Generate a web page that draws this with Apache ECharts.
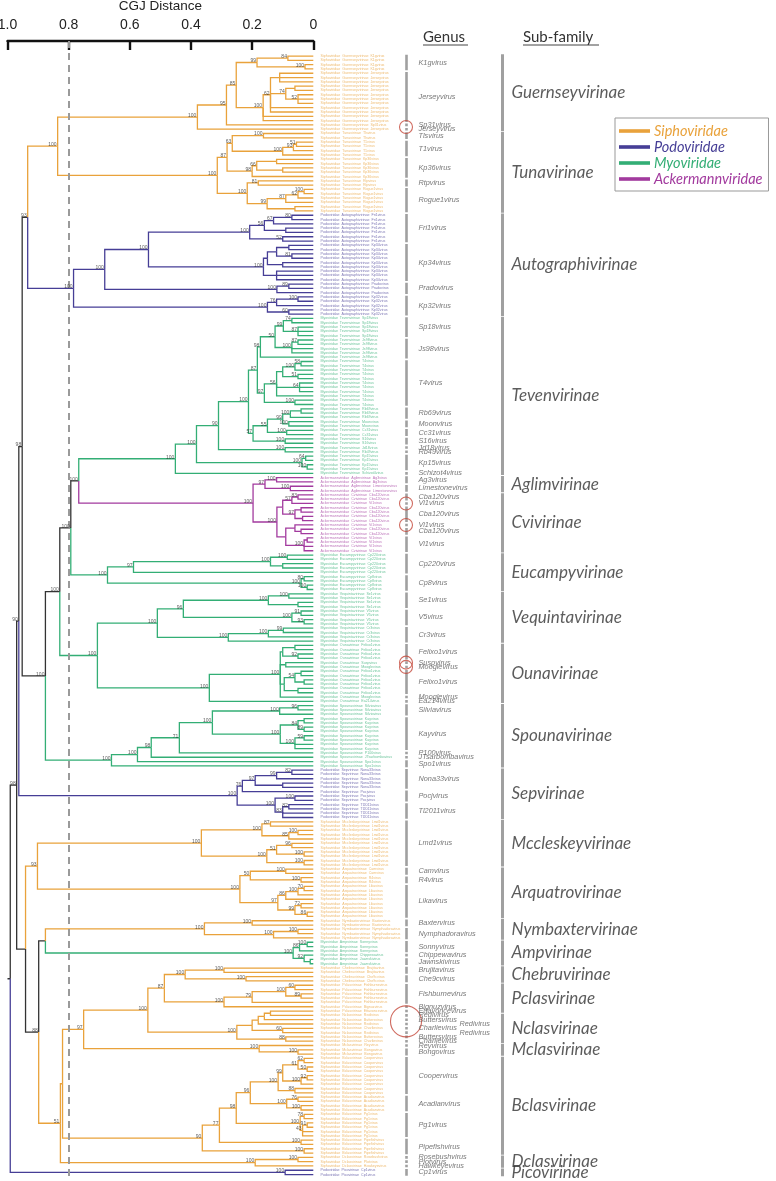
<!DOCTYPE html>
<html><head><meta charset="utf-8">
<script src="https://cdn.jsdelivr.net/npm/echarts@6/dist/echarts.min.js"></script>
<style>html,body{margin:0;padding:0;background:#fff}#c{width:776px;height:1181px}</style>
</head><body><div id="c"></div>
<script>
// ---------------- DATA ----------------
const distanceTicks = [1.0, 0.8, 0.6, 0.4, 0.2, 0];
const cutoffDistance = 0.8;
const families = ['Siphoviridae', 'Podoviridae', 'Myoviridae', 'Ackermannviridae'];
const podoGenera = ['Fri1','Kp34','Prado','Kp32','Nona33','Pocj','Tl2011','Cp1'];
const myoGenera = ['Sp18','Js98','T4','Rb69','Moon','Cc31','S16','Jd18','Rb49','Kp15','Schizot4','Cp220','Cp8','Se1','V5','Cr3','Felixo1','Susp','Moogle','Ea214','Silvia','Kay','P100','JTsarbomba','Spo1','Sonny','Chippewa','Jawnski'];
const ackerGenera = ['Ag3','Limestone','Cba120','Vi1'];

const subfamilies = [
 ['Guernseyvirinae',['K1g','Jersey','Sp31']],
 ['Tunavirinae',['Tls','T1','Kp36','Rtp','Rogue1']],
 ['Autographivirinae',['Fri1','Kp34','Prado','Kp32']],
 ['Tevenvirinae',['Sp18','Js98','T4','Rb69','Moon','Cc31','S16','Jd18','Rb49','Kp15','Schizot4']],
 ['Aglimvirinae',['Ag3','Limestone']],
 ['Cvivirinae',['Cba120','Vi1']],
 ['Eucampyvirinae',['Cp220','Cp8']],
 ['Vequintavirinae',['Se1','V5','Cr3']],
 ['Ounavirinae',['Felixo1','Susp','Moogle','Ea214']],
 ['Spounavirinae',['Silvia','Kay','P100','JTsarbomba','Spo1']],
 ['Sepvirinae',['Nona33','Pocj','Tl2011']],
 ['Mccleskeyvirinae',['Lmd1']],
 ['Arquatrovirinae',['Cam','R4','Lika']],
 ['Nymbaxtervirinae',['Baxter','Nymphadora']],
 ['Ampvirinae',['Sonny','Chippewa','Jawnski']],
 ['Chebruvirinae',['Brujita','Che9c']],
 ['Pclasvirinae',['Fishburne','Bignuz','Ettavonce']],
 ['Nclasvirinae',['Redi','Butters','Charlie']],
 ['Mclasvirinae',['Rey','Bongo']],
 ['Bclasvirinae',['Cooper','Acadian','Pg1','Pipefish']],
 ['Dclasvirinae',['Rosebush','Plot','Hawkeye']],
 ['Picovirinae',['Cp1']]
];

// subtrees: [distance, bootstrap, ...children]; a string is a leaf of that genus
const guernsey = [0.379,100,[0.284,95,[0.252,85,[0.184,99,[0.083,84,'K1g','K1g'],[0.027,100,'K1g','K1g']],
  [0.164,100,[0.14,62,[0.11,null,'Jersey','Jersey','Jersey'],[0.09,74,[0.06,null,'Jersey','Jersey'],[0.05,52,'Jersey','Jersey','Jersey']],'Jersey','Jersey'],'Jersey','Jersey']],'Sp31'],'Jersey'];
const tuna = [0.314,100,[0.282,87,[0.265,63,[0.163,100,'Tls','Tls'],[0.1,100,[0.065,93,[0.055,51,'T1','T1'],'T1'],'T1']],
  [0.2,98,[0.185,66,[0.12,null,'Kp36','Kp36'],[0.1,null,'Kp36','Kp36']],'Kp36']],
  [0.216,100,[0.18,81,'Rtp','Rtp'],[0.151,99,[0.09,87,[0.05,62,[0.03,100,'Rogue1','Rogue1'],'Rogue1'],'Rogue1'],[0.06,null,'Rogue1','Rogue1']]]];
const autographi = [0.784,100,[0.682,100,[0.539,100,
  [0.208,100,[0.16,56,[0.13,67,[0.07,80,'Fri1','Fri1'],'Fri1'],[0.09,null,'Fri1','Fri1']],[0.1,52,'Fri1','Fri1']],
  [0.163,100,[0.15,null,[0.12,null,[0.08,null,'Kp34','Kp34'],[0.07,81,'Kp34','Kp34']],[0.1,null,'Kp34','Kp34']],[0.12,null,'Kp34','Kp34','Kp34']]],
  [0.119,100,[0.08,89,'Prado','Prado'],'Prado']],
  [0.15,100,[0.12,76,[0.05,100,'Kp32','Kp32'],'Kp32'],[0.08,60,'Kp32','Kp32']]];
const sp18 = [0.098,99,[0.07,74,'Sp18','Sp18'],[0.05,87,'Sp18','Sp18','Sp18']];
const js98 = [0.07,100,[0.05,87,'Js98','Js98'],'Js98','Js98'];
const t4 = [0.16,97,[0.12,56,[0.1,null,[0.06,100,[0.04,58,'T4','T4'],'T4'],[0.05,51,'T4','T4']],[0.045,64,'T4','T4','T4'],'T4'],[0.06,100,'T4','T4']];
const rbGroup = [0.197,57,[0.15,55,[0.1,99,[0.075,100,[0.04,null,'Rb69','Rb69'],'Rb69'],[0.08,100,'Moon','Moon']],[0.087,100,'Cc31','Cc31']],[0.092,100,'S16','S16']];
const kp15 = [0.037,100,[0.025,64,'Kp15','Kp15'],[0.02,100,'Kp15','Kp15']];
const teven = [0.451,100,[0.382,100,[0.31,90,[0.212,100,[0.183,87,[0.173,98,[0.125,50,sp18,js98],'Js98'],t4],rbGroup],[0.092,100,'Jd18','Rb49']],kp15],'Schizot4'];
const aglim = [0.158,97,[0.12,100,'Ag3','Ag3'],[0.075,100,'Limestone','Limestone']];
const cvivir = [0.119,100,[0.1,null,[0.07,57,[0.05,83,'Cba120','Cba120'],'Vi1'],[0.06,97,[0.04,null,'Cba120','Cba120'],[0.035,null,'Cba120','Cba120']]],
  [0.09,null,[0.06,null,'Vi1',[0.04,null,'Cba120','Cba120']],[0.03,100,[0.02,null,'Vi1','Vi1'],'Vi1','Vi1']]];
const eucampy = [0.673,100,[0.588,97,[0.14,100,[0.085,100,'Cp220','Cp220'],[0.1,null,'Cp220','Cp220']],'Cp220'],[0.04,100,[0.03,80,'Cp8','Cp8'],[0.02,100,'Cp8','Cp8']]];
const vequinta = [0.51,100,[0.425,96,[0.147,100,[0.08,100,'Se1','Se1'],[0.05,null,'Se1','Se1']],[0.07,100,[0.04,91,'V5','V5'],[0.03,93,'V5','V5']]],
  [0.278,100,[0.147,100,[0.098,99,'Cr3','Cr3'],'Cr3'],'Cr3']];
const ouna = [0.34,100,[0.108,100,[0.1,null,[0.06,null,'Felixo1','Felixo1'],[0.05,92,'Felixo1','Felixo1']],[0.09,null,'Susp','Moogle'],
  [0.095,null,[0.06,54,[0.04,null,'Felixo1','Felixo1'],[0.03,null,'Felixo1','Felixo1']],[0.05,null,'Felixo1','Felixo1']],'Moogle'],'Ea214'];
const spouna = [0.66,100,[0.575,100,[0.53,98,[0.438,71,[0.33,100,[0.11,100,[0.05,96,'Silvia','Silvia'],'Silvia'],
  [0.108,100,[0.05,84,[0.03,null,'Kay','Kay'],[0.03,89,'Kay','Kay']],[0.06,100,[0.03,59,'Kay','Kay'],'Kay','Kay']]],'P100'],'JTsarbomba'],'Spo1'],'Spo1'];
const sep = [0.249,100,[0.232,76,[0.19,97,[0.12,99,[0.07,82,'Nona33','Nona33'],'Nona33'],[0.1,null,'Nona33','Nona33']],'Pocj'],
  [0.125,100,[0.06,100,'Pocj','Pocj'],[0.1,83,[0.08,82,'Tl2011','Tl2011'],'Tl2011','Tl2011']]];
const mccleskey = [0.366,100,[0.168,100,[0.14,87,'Lmd1','Lmd1'],[0.08,85,[0.05,100,'Lmd1','Lmd1'],'Lmd1']],[0.152,100,[0.12,51,[0.07,96,'Lmd1','Lmd1'],[0.03,100,'Lmd1','Lmd1']],[0.03,100,'Lmd1','Lmd1']]];
const arquatro = [0.24,100,[0.206,50,[0.09,100,'Cam','Cam'],[0.04,100,'R4','R4']],[0.116,97,[0.09,86,[0.05,100,[0.03,70,'Lika','Lika'],'Lika'],'Lika'],[0.06,99,[0.04,72,'Lika','Lika'],[0.02,86,'Lika','Lika']]]];
const nymbax = [0.356,100,[0.2,100,'Baxter','Baxter'],[0.13,100,[0.05,100,'Nymphadora','Nymphadora'],'Nymphadora']];
const amp = [0.066,100,[0.045,86,[0.02,100,'Sonny','Sonny'],'Sonny'],[0.03,92,'Chippewa',[0.01,null,'Jawnski','Jawnski']]];
const chebru = [0.419,100,[0.292,100,'Brujita','Brujita'],[0.22,100,'Che9c','Che9c']];
const pclas = [0.292,100,[0.2,79,[0.09,100,[0.06,60,'Fishburne','Fishburne'],[0.04,89,'Fishburne','Fishburne']],'Fishburne'],'Bignuz'];
const nclas = [0.25,100,[0.2,null,[0.18,null,[0.16,null,[0.14,null,'Ettavonce','Redi'],'Butters'],'Redi'],[0.1,60,'Charlie','Redi']],[0.09,88,'Butters','Charlie']];
const mclas = [0.177,100,'Rey',[0.05,100,'Bongo','Bongo']];
const cooper = [0.115,100,[0.1,99,[0.05,61,[0.03,62,'Cooper','Cooper'],[0.02,50,'Cooper','Cooper']],[0.04,100,[0.02,92,'Cooper','Cooper'],'Cooper']],[0.06,88,'Cooper','Cooper']];
const acadian = [0.087,100,[0.05,76,'Acadian','Acadian'],[0.04,100,'Acadian','Acadian']];
const pg1 = [0.043,100,[0.03,78,'Pg1','Pg1'],[0.035,43,[0.02,91,'Pg1','Pg1'],'Pg1','Pg1']];
const bclas = [0.363,90,[0.307,77,[0.252,98,[0.206,96,cooper,acadian],pg1],[0.04,100,'Pipefish','Pipefish']],[0.03,100,'Pipefish','Pipefish']];
const dclas = [0.19,100,[0.05,100,'Rosebush','Plot'],'Hawkeye'];
const pico = [0.092,100,'Cp1','Cp1'];

const backbone = [0.991,null,
  [0.970,98,
    [0.963,90,
      [0.952,98,
        [0.934,93,[0.836,100,guernsey,tuna],autographi],
        [0.876,100,[0.829,100,[0.793,100,[0.767,100,teven,[0.197,100,aglim,cvivir]],eucampy],[0.706,100,vequinta,ouna]],spouna]],
      sep],
    [0.941,null,[0.902,93,mccleskey,arquatro],
      [0.898,88,[0.876,null,nymbax,amp],
        [0.827,51,[0.82,null,[0.751,97,[0.541,100,[0.487,87,chebru,pclas],nclas],mclas],bclas],dclas]]]],
  pico];
const rootDistance = 1.0;

// annotations (leaf positions)
const circledLeaves = [16.5, 104, 109, 141, 142];
const bigCircleLeaf = 224.4;
const secondColumnLeaves = [225, 227];

// ---------------- BUILD ----------------
const COLORS = {Siphoviridae:'#E9A23B', Podoviridae:'#463E96', Myoviridae:'#33AE75', Ackermannviridae:'#A23A9E', mixed:'#333333'};
const LEAFCOL = {Siphoviridae:'rgba(233,162,59,0.9)', Podoviridae:'rgba(70,62,150,0.9)', Myoviridae:'rgba(51,174,117,0.9)', Ackermannviridae:'rgba(162,58,158,0.9)'};
function famOf(g){
  if (podoGenera.includes(g)) return 'Podoviridae';
  if (myoGenera.includes(g)) return 'Myoviridae';
  if (ackerGenera.includes(g)) return 'Ackermannviridae';
  return 'Siphoviridae';
}
function subOf(g){ for (const s of subfamilies) if (s[1].includes(g)) return s[0]; return ''; }

const leaves = [];
const edges = {Siphoviridae:[], Podoviridae:[], Myoviridae:[], Ackermannviridae:[], mixed:[]};
const boots = [];
function build(n){
  if (typeof n === 'string'){ const i = leaves.length; leaves.push(n); return {d:0, y:i, fam:famOf(n)}; }
  const d = n[0], b = n[1];
  const ch = n.slice(2).map(build);
  const y = (ch[0].y + ch[ch.length-1].y) / 2;
  const fs = new Set(ch.map(c => c.fam));
  const fam = fs.size === 1 ? ch[0].fam : 'mixed';
  ch.forEach(c => edges[c.fam].push({coords: [[d, y], [d, c.y], [c.d, c.y]]}));
  if (b != null) boots.push([d, y, b]);
  return {d, y, fam};
}
const root = build(backbone);
edges.mixed.push({coords: [[rootDistance, root.y], [root.d, root.y]]});

function runs(keyFn){
  const out = []; let cur = null;
  leaves.forEach((g, i) => {
    const k = keyFn(g);
    if (cur && cur.k === k) cur.end = i; else { cur = {k, start:i, end:i}; out.push(cur); }
  });
  return out;
}
const genusRuns = runs(g => g);
const subRuns = runs(subOf);

const TOP = 41, H = 1140, YMIN = -3.5, YMAX = 261.5;
const G_BAR_X = 406, G_LAB_X = 418, G_LAB_X2 = 459, S_BAR_X = 502, S_LAB_X = 511, LEAF_X = 320;

const series = [];
['mixed','Siphoviridae','Podoviridae','Myoviridae','Ackermannviridae'].forEach(f => {
  series.push({
    type:'lines', name: f === 'mixed' ? 'backbone' : f, coordinateSystem:'cartesian2d', xAxisIndex:0, yAxisIndex:0,
    polyline:true, silent:true, data: edges[f],
    lineStyle:{color:COLORS[f], width:1.3, opacity:1}, itemStyle:{color:COLORS[f]}, z: 3
  });
});
// cutoff dashed line
series[0].markLine = {silent:true, symbol:'none', label:{show:false}, animation:false,
  lineStyle:{color:'#9a9a9a', type:[7,5], width:2}, data:[{xAxis: cutoffDistance}]};
// bootstrap values
series.push({type:'scatter', xAxisIndex:0, yAxisIndex:0, symbolSize:1, itemStyle:{color:'rgba(0,0,0,0)'}, silent:true, z:5,
  data: boots,
  label:{show:true, position:'left', distance:0.5, offset:[0,-1.6], formatter:p => p.value[2], fontSize:5, color:'#333', fontFamily:'Liberation Sans'}});
// leaf labels
series.push({type:'scatter', xAxisIndex:1, yAxisIndex:1, symbolSize:1, itemStyle:{color:'rgba(0,0,0,0)'}, silent:true,
  data: leaves.map((g, i) => ({value:[LEAF_X, i], label:{color: LEAFCOL[famOf(g)]}, name: famOf(g)+'  '+subOf(g)+'  '+g+'virus'})),
  label:{show:true, position:'right', distance:0, formatter:p => p.name, fontSize:3.6, fontFamily:'Liberation Sans'}});
// genus bars
series.push({type:'lines', coordinateSystem:'cartesian2d', xAxisIndex:1, yAxisIndex:1, silent:true,
  data: genusRuns.map(r => ({coords:[[G_BAR_X, r.start-0.3],[G_BAR_X, r.end+0.3]]})),
  lineStyle:{color:'#a0a0a0', width:2.6, opacity:1}});
// genus labels
series.push({type:'scatter', xAxisIndex:1, yAxisIndex:1, symbolSize:1, itemStyle:{color:'rgba(0,0,0,0)'}, silent:true,
  data: genusRuns.map(r => ({name: r.k+'virus', value:[secondColumnLeaves.includes(r.start) ? G_LAB_X2 : G_LAB_X, (r.start+r.end)/2]})),
  label:{show:true, position:'right', distance:0, formatter:p => p.name, fontSize:7.3, fontStyle:'italic', color:'#555', fontFamily:'Liberation Sans'}});
// subfamily bars
series.push({type:'lines', coordinateSystem:'cartesian2d', xAxisIndex:1, yAxisIndex:1, silent:true,
  data: subRuns.map(r => ({coords:[[S_BAR_X, r.start-0.4],[S_BAR_X, r.end+0.4]]})),
  lineStyle:{color:'#a0a0a0', width:3, opacity:1}});
// subfamily labels
series.push({type:'scatter', xAxisIndex:1, yAxisIndex:1, symbolSize:1, itemStyle:{color:'rgba(0,0,0,0)'}, silent:true,
  data: subRuns.map(r => ({name: r.k, value:[S_LAB_X, (r.start+r.end)/2]})),
  label:{show:true, position:'right', distance:0, formatter:p => p.name, fontSize:17, fontStyle:'italic', color:'#333', fontFamily:'Lato'}});
// red circles
series.push({type:'scatter', xAxisIndex:1, yAxisIndex:1, silent:true, symbol:'circle', symbolSize:13,
  itemStyle:{color:'rgba(0,0,0,0)', borderColor:'#c4473a', borderWidth:1.1},
  data: circledLeaves.map(v => [G_BAR_X, v])});
series.push({type:'scatter', xAxisIndex:1, yAxisIndex:1, silent:true, symbol:'circle', symbolSize:31,
  itemStyle:{color:'rgba(0,0,0,0)', borderColor:'#c4473a', borderWidth:1.1},
  data: [[G_BAR_X, bigCircleLeaf]]});

const option = {
  animation:false,
  backgroundColor:'#fff',
  textStyle:{fontFamily:'Liberation Sans'},
  color: families.map(f => COLORS[f]),
  legend:{
    data: families.map(f => ({name:f, textStyle:{color:COLORS[f]}})),
    orient:'vertical', left:615, top:118, icon:'rect', itemWidth:29, itemHeight:1.6, itemGap:0,
    selectedMode:false, backgroundColor:'#fff', borderColor:'#999', borderWidth:1, padding:[5,6,4,4],
    textStyle:{fontSize:14.5, fontStyle:'italic', fontFamily:'Lato', lineHeight:16}
  },
  grid:[
    {left:7.5, right:462.7, top:TOP, height:H, containLabel:false, outerBoundsMode:'none'},
    {left:0, right:0, top:TOP, height:H, containLabel:false, outerBoundsMode:'none'}
  ],
  xAxis:[
    {type:'value', gridIndex:0, inverse:true, position:'top', min:0, max:1, interval:0.2,
     name:'CGJ Distance', nameLocation:'middle', nameGap:27, nameTextStyle:{fontSize:13.5, color:'#222'},
     axisLine:{show:true, onZero:false, lineStyle:{color:'#111', width:2.4}},
     axisTick:{show:true, inside:true, length:9, lineStyle:{color:'#111', width:2.4}},
     axisLabel:{margin:9, fontSize:14, color:'#222', formatter:v => distanceTicks.includes(v) ? (v === 0 ? '0' : v.toFixed(1)) : ''},
     splitLine:{show:false}},
    {type:'value', gridIndex:1, min:0, max:776, show:false}
  ],
  yAxis:[
    {type:'value', gridIndex:0, inverse:true, min:YMIN, max:YMAX, show:false},
    {type:'value', gridIndex:1, inverse:true, min:YMIN, max:YMAX, show:false}
  ],
  graphic:[
    {type:'text', style:{x:423, y:37, text:'Genus', font:'15px Lato', fill:'#333', textVerticalAlign:'middle'}},
    {type:'line', shape:{x1:423, y1:45, x2:468, y2:45}, style:{stroke:'#444', lineWidth:1}},
    {type:'text', style:{x:523, y:37, text:'Sub-family', font:'15px Lato', fill:'#333', textVerticalAlign:'middle'}},
    {type:'line', shape:{x1:523, y1:45, x2:599, y2:45}, style:{stroke:'#444', lineWidth:1}}
  ],
  series
};
const chart = echarts.init(document.getElementById('c'), null, {renderer:'canvas'});
chart.setOption(option);
</script></body></html>
